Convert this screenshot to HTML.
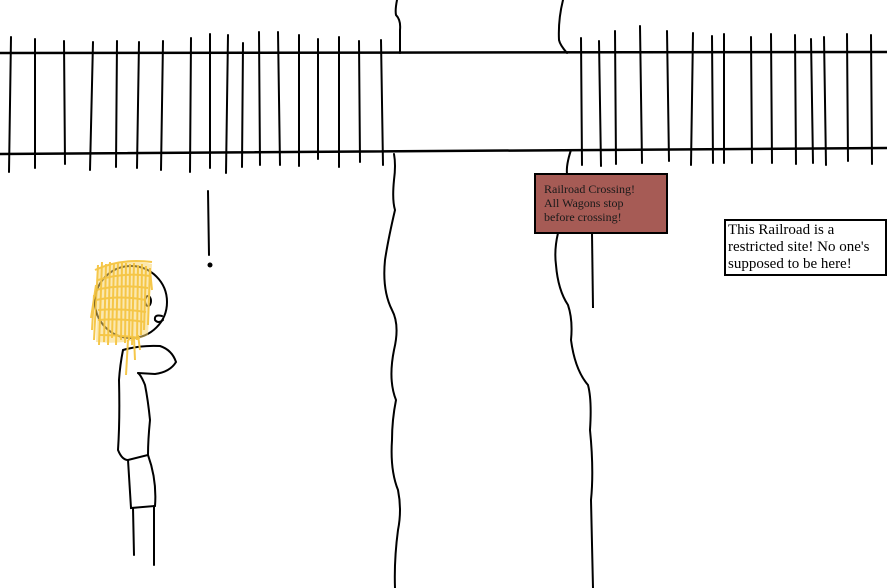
<!DOCTYPE html>
<html><head><style>
html,body{margin:0;padding:0;background:#fff;}
svg{display:block;}
text{font-family:"Liberation Serif",serif;}
</style></head><body>
<svg width="887" height="588" viewBox="0 0 887 588" xmlns="http://www.w3.org/2000/svg">
<g stroke="#000" stroke-width="2" fill="none" stroke-linecap="round">
<line x1="0" y1="53" x2="887" y2="52" stroke-width="2.5"/>
<line x1="0" y1="154" x2="887" y2="148" stroke-width="2.5"/>
<line x1="11" y1="37" x2="9" y2="172"/>
<line x1="35" y1="39" x2="35" y2="168"/>
<line x1="64" y1="41" x2="65" y2="164"/>
<line x1="93" y1="42" x2="90" y2="170"/>
<line x1="117" y1="41" x2="116" y2="167"/>
<line x1="139" y1="42" x2="137" y2="168"/>
<line x1="163" y1="41" x2="161" y2="170"/>
<line x1="191" y1="38" x2="190" y2="172"/>
<line x1="210" y1="34" x2="210" y2="168"/>
<line x1="228" y1="35" x2="226" y2="173"/>
<line x1="243" y1="43" x2="242" y2="167"/>
<line x1="259" y1="32" x2="260" y2="165"/>
<line x1="278" y1="32" x2="280" y2="165"/>
<line x1="299" y1="35" x2="299" y2="166"/>
<line x1="318" y1="39" x2="318" y2="159"/>
<line x1="339" y1="37" x2="339" y2="167"/>
<line x1="359" y1="41" x2="360" y2="162"/>
<line x1="381" y1="40" x2="383" y2="165"/>
<line x1="581" y1="38" x2="582" y2="165"/>
<line x1="599" y1="41" x2="601" y2="166"/>
<line x1="615" y1="31" x2="616" y2="164"/>
<line x1="640" y1="26" x2="642" y2="163"/>
<line x1="667" y1="31" x2="669" y2="161"/>
<line x1="693" y1="33" x2="691" y2="165"/>
<line x1="712" y1="36" x2="713" y2="163"/>
<line x1="724" y1="34" x2="724" y2="163"/>
<line x1="751" y1="37" x2="752" y2="163"/>
<line x1="771" y1="34" x2="772" y2="163"/>
<line x1="795" y1="35" x2="796" y2="164"/>
<line x1="811" y1="39" x2="813" y2="163"/>
<line x1="824" y1="37" x2="826" y2="165"/>
<line x1="847" y1="34" x2="848" y2="161"/>
<line x1="871" y1="35" x2="872" y2="164"/>
<path d="M397 0 Q395 10 396 15 Q401 20 400 30 L400 53"/>
<path d="M394 154 Q396 165 394 180 Q392 200 395 210 Q388 240 385 260 Q382 290 392 310 Q400 325 394 350 Q388 380 396 400 Q392 420 392 440 Q390 470 398 490 Q402 510 398 530 Q394 560 395 588"/>
<path d="M563 0 Q558 20 559 40 Q560 45 567 53"/>
<path d="M571 150 Q566 165 567 174"/>
<path d="M558 233 Q554 250 556 265 Q558 290 568 305 Q573 320 571 340 Q575 370 588 385 Q592 400 590 430 Q594 470 591 500 Q592 540 593 588"/>
<line x1="208" y1="191" x2="209" y2="255"/>
</g>
<circle cx="210" cy="265" r="2.5" fill="#000"/>
<g stroke="#000" stroke-width="2" fill="none" stroke-linecap="round">
<circle cx="131" cy="302" r="36" fill="#fff"/>
<ellipse cx="148" cy="301" rx="3" ry="5"/>
<path d="M162 316 Q154 314 155 320 Q158 324 163 320"/>
<path d="M123 350 Q140 345 160 346 Q172 350 176 362 Q170 372 155 374 L138 373"/>
<path d="M123 350 Q120 365 119 380 Q120 420 118 450 Q122 460 128 460 L148 455 Q148 440 150 420 Q148 400 145 385 Q141 375 138 373"/>
<path d="M128 460 L131 508 L155 506 Q157 480 148 455"/>
<line x1="133" y1="508" x2="134" y2="555"/>
<line x1="154" y1="506" x2="154" y2="565"/>
</g>
<path d="M98 268 Q125 258 152 264 L148 335 Q130 345 96 342 Z" fill="#f8d670" opacity="0.55"/>
<g stroke="#f5c542" stroke-width="2" fill="none" opacity="0.95">
<path d="M98 265 L94 340 M102 262 L99 345 M106 264 L104 342 M110 262 L108 345 M114 263 L112 338 M118 262 L116 345 M122 262 L121 340 M126 263 L125 343 M130 264 L129 340 M134 263 L132 345 M138 265 L137 340 M142 264 L141 335 M146 266 L144 330 M150 268 L148 325 M96 285 L91 318 M94 295 L92 330 M128 340 L126 375 M134 338 L135 360 M138 335 L140 350 M150 270 L152 290"/>
<path d="M95 270 Q120 258 152 262 M98 280 Q125 272 150 276 M96 290 Q120 284 148 288 M96 300 Q120 295 146 300 M98 310 Q120 308 146 312 M98 320 Q120 318 145 322 M100 335 Q120 335 140 338"/>
</g>
<line x1="592" y1="233" x2="593" y2="308" stroke="#000" stroke-width="2"/>
<rect x="535" y="174" width="132" height="59" fill="#a65b55" stroke="#000" stroke-width="2"/>
<text font-size="12" fill="#1a1a1a"><tspan x="544" y="193">Railroad Crossing!</tspan><tspan x="544" y="207">All Wagons stop</tspan><tspan x="544" y="221">before crossing!</tspan></text>
<rect x="725" y="220" width="161" height="55" fill="#fff" stroke="#000" stroke-width="2"/>
<text font-size="15" fill="#000"><tspan x="728" y="234">This Railroad is a</tspan><tspan x="728" y="251">restricted site! No one's</tspan><tspan x="728" y="268">supposed to be here!</tspan></text>
</svg>
</body></html>
